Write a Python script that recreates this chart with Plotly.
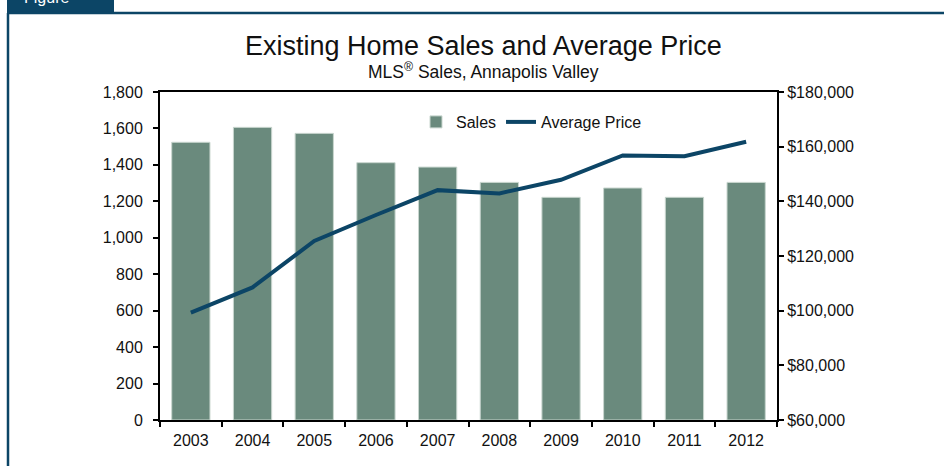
import plotly.graph_objects as go

years = ["2003", "2004", "2005", "2006", "2007", "2008", "2009", "2010", "2011", "2012"]
sales = [1524, 1606, 1573, 1412, 1388, 1304, 1222, 1273, 1222, 1304]
avg_price = [99300, 108500, 125500, 135000, 144100, 142900, 147900, 156800, 156500, 161800]

sales_ticks = list(range(0, 1801, 200))
price_ticks = list(range(60000, 180001, 20000))

W, H = 944, 466
L, R, T, B = 160, 777, 92, 420
BLUE = "#0c4566"
FONT = "Arial, Liberation Sans, sans-serif"


# pixel -> paper coords, for the decoration shapes outside the plot area
def px(x):
    return (x - L) / (R - L)


def py(y):
    return (B - y) / (B - T)


fig = go.Figure()
fig.add_trace(go.Bar(
    x=years, y=sales, name="Sales",
    marker=dict(color="#6a8a7d", line=dict(color="#c9d6cf", width=1)),
    width=0.62,
))
fig.add_trace(go.Scatter(
    x=years, y=avg_price, name="Average Price", yaxis="y2",
    mode="lines", line=dict(color=BLUE, width=4),
))

axis_common = dict(
    showline=True, linecolor="black", linewidth=2,
    ticks="outside", ticklen=5, tickwidth=2, tickcolor="black",
    showgrid=False, zeroline=False,
    tickfont=dict(family=FONT, size=16, color="#111"),
)

fig.update_layout(
    width=W, height=H,
    margin=dict(l=L, r=W - R, t=T, b=H - B),
    paper_bgcolor="white", plot_bgcolor="white",
    font=dict(family=FONT, color="#111"),
    showlegend=True,
    legend=dict(
        orientation="h", x=px(416), y=py(105), xanchor="left", yanchor="top",
        font=dict(size=16, color="#111"), bgcolor="rgba(0,0,0,0)",
        itemwidth=30, tracegroupgap=0,
    ),
    xaxis=dict(**axis_common, mirror=True, tickson="boundaries",
               ticklabelstandoff=5),
    yaxis=dict(**axis_common, range=[0, 1800], tickvals=sales_ticks,
               ticktext=[f"{v:,}" for v in sales_ticks], ticklabelstandoff=7),
    yaxis2=dict(**axis_common, overlaying="y", side="right",
                range=[60000, 180000], tickvals=price_ticks,
                ticktext=[f"${v:,}" for v in price_ticks]),
    annotations=[
        dict(text="Existing Home Sales and Average Price", xref="paper", yref="paper",
             x=px(483), y=py(46), xanchor="center", yanchor="middle",
             showarrow=False, font=dict(family=FONT, size=27, color="#111")),
        dict(text="MLS<sup>®</sup> Sales, Annapolis Valley", xref="paper", yref="paper",
             x=px(483), y=py(71), xanchor="center", yanchor="middle",
             showarrow=False, font=dict(family=FONT, size=17.5, color="#111")),
        dict(text="Figure", xref="paper", yref="paper",
             x=px(22), y=py(8), xanchor="left", yanchor="bottom",
             showarrow=False, font=dict(family=FONT, size=16, color="white")),
    ],
    shapes=[
        dict(type="rect", xref="paper", yref="paper", x0=px(7), x1=px(114),
             y0=py(13), y1=py(-2), fillcolor=BLUE, line=dict(width=0), layer="below"),
        dict(type="line", xref="paper", yref="paper", x0=px(7), x1=px(946),
             y0=py(13), y1=py(13), line=dict(color=BLUE, width=2.5)),
        dict(type="line", xref="paper", yref="paper", x0=px(8), x1=px(8),
             y0=py(13), y1=py(470), line=dict(color=BLUE, width=2.5)),
    ],
)

# the page's default body margin would push the figure 8px down and right
fig.write_html("out.html", config={"displayModeBar": False},
               post_script="document.body.style.margin='0';")
